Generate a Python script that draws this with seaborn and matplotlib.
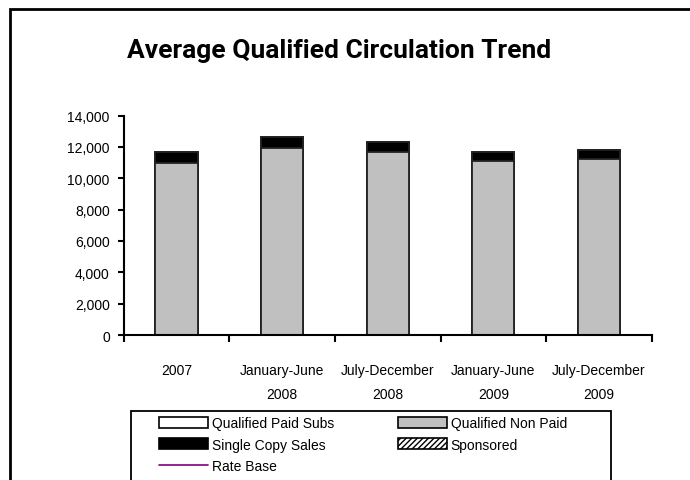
import numpy as np
import pandas as pd
import matplotlib.pyplot as plt
from matplotlib.patches import Rectangle, Patch
from matplotlib.lines import Line2D
import seaborn as sns

# Data
categories = ["2007", "January-June\n2008", "July-December\n2008",
              "January-June\n2009", "July-December\n2009"]
paid_subs = [0, 0, 0, 0, 0]
non_paid = [10970, 11930, 11690, 11080, 11210]
single_copy = [680, 720, 600, 570, 590]
sponsored = [0, 0, 0, 0, 0]
rate_base = [np.nan, np.nan, np.nan, np.nan, np.nan]

df = pd.DataFrame({"category": categories, "paid": paid_subs,
                   "nonpaid": non_paid, "single": single_copy,
                   "sponsored": sponsored})
df["lvl1"] = df["paid"]
df["lvl2"] = df["lvl1"] + df["nonpaid"]
df["lvl3"] = df["lvl2"] + df["single"]
df["lvl4"] = df["lvl3"] + df["sponsored"]

sns.set_theme(style="white")
plt.rcParams["font.family"] = ["Liberation Sans", "DejaVu Sans"]
plt.rcParams["text.color"] = "black"
plt.rcParams["xtick.color"] = "black"
plt.rcParams["ytick.color"] = "black"

W, H = 690, 481
fig = plt.figure(figsize=(W / 100, H / 100), dpi=100)
ax = fig.add_axes([123.7 / W, 1 - 336 / H, (651.7 - 123.7) / W, (336 - 116.5) / H])

# -----------------------------
# stacked bars, top layer first
# -----------------------------
sns.barplot(data=df, x="category", y="lvl4", color="white", hatch="//////",
            edgecolor="#222222", linewidth=1.3, width=0.4, errorbar=None,
            saturation=1, ax=ax)
sns.barplot(data=df, x="category", y="lvl3", color="black",
            edgecolor="#222222", linewidth=1.3, width=0.4, errorbar=None,
            saturation=1, ax=ax)
sns.barplot(data=df, x="category", y="lvl2", color="#C0C0C0",
            edgecolor="#222222", linewidth=1.3, width=0.4, errorbar=None,
            saturation=1, ax=ax)
sns.barplot(data=df, x="category", y="lvl1", color="white",
            edgecolor="#222222", linewidth=1.3, width=0.4, errorbar=None,
            saturation=1, ax=ax)
ax.plot(range(len(categories)), rate_base, color="#800080", linewidth=1.2)

ax.set_xlim(-0.5, len(categories) - 0.5)
ax.set_ylim(0, 14000)
ax.set_yticks(range(0, 14001, 2000))
ax.set_yticklabels([f"{v:,}" for v in range(0, 14001, 2000)], fontsize=10)
ax.set_xticks(range(len(categories)))
ax.set_xticklabels(categories, fontsize=10, linespacing=1.95)
ax.set_xticks(np.arange(-0.5, len(categories), 1), minor=True)
ax.tick_params(axis="x", which="major", length=0, pad=20)
ax.tick_params(axis="x", which="minor", length=5, width=1.5, color="black",
               direction="out", bottom=True)
ax.tick_params(axis="y", length=4, width=1.5, color="black", direction="out",
               left=True, pad=6)
ax.set_xlabel("")
ax.set_ylabel("")
for side in ["top", "right"]:
    ax.spines[side].set_visible(False)
for side in ["left", "bottom"]:
    ax.spines[side].set_color("black")
    ax.spines[side].set_linewidth(1.5)

fig.text(339 / W, 1 - 51 / H, "Average Qualified Circulation Trend",
         ha="center", va="center", fontsize=19, fontweight="bold",
         color="black", family=["Roboto", "DejaVu Sans"])

# outer frame and legend frame, both run off the image edge
fig.add_artist(Rectangle((10 / W, -0.05), 1.1, 1 - 10 / H + 0.05,
                         transform=fig.transFigure, fill=False,
                         edgecolor="black", linewidth=2))
fig.add_artist(Rectangle((131 / W, -0.05), (611 - 131) / W, 1 - 412 / H + 0.05,
                         transform=fig.transFigure, fill=False,
                         edgecolor="black", linewidth=1.3))

handles = [
    Patch(facecolor="white", edgecolor="black", linewidth=1.2),
    Patch(facecolor="black", edgecolor="black", linewidth=1.2),
    Line2D([], [], color="#800080", linewidth=1.2),
    Patch(facecolor="#C0C0C0", edgecolor="black", linewidth=1.2),
    Patch(facecolor="white", edgecolor="black", hatch="//////", linewidth=1.2),
]
labels = ["Qualified Paid Subs", "Single Copy Sales", "Rate Base",
          "Qualified Non Paid", "Sponsored"]
fig.legend(handles, labels, loc="upper left", bbox_to_anchor=(159 / W, 1 - 417 / H),
           ncol=2, frameon=False, fontsize=10, borderpad=0, borderaxespad=0,
           handlelength=3.5, handleheight=0.85, handletextpad=0.3,
           labelspacing=0.55, columnspacing=4.6)

plt.savefig("out.png", dpi=100)
plt.close()
